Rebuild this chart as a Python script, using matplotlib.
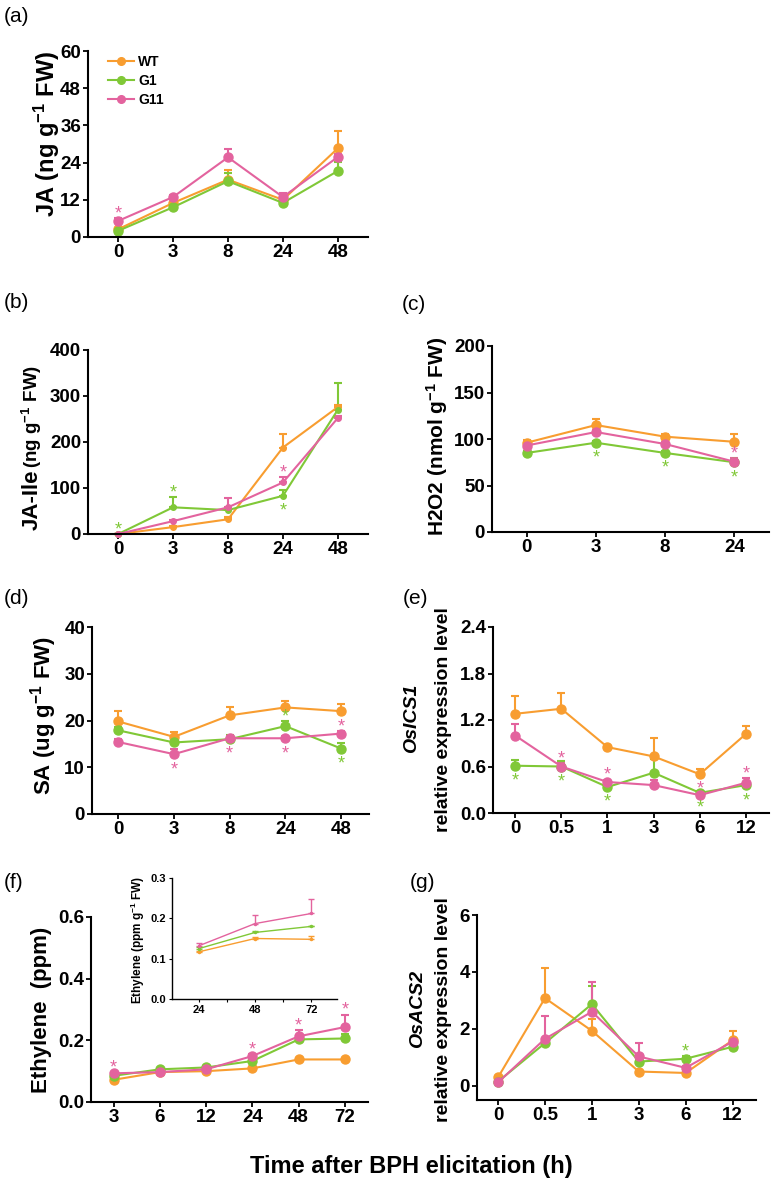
import numpy as np
import matplotlib
matplotlib.use("Agg")
import matplotlib.pyplot as plt
from matplotlib.lines import Line2D

plt.rcParams['font.family'] = ['Liberation Sans', 'DejaVu Sans']
plt.rcParams['mathtext.fontset'] = 'custom'
plt.rcParams['mathtext.rm'] = 'Liberation Sans:bold'
plt.rcParams['mathtext.it'] = 'Liberation Sans:bold:italic'
plt.rcParams['mathtext.bf'] = 'Liberation Sans:bold'

W, H = 774, 1184
colors = {'WT': '#F89D30', 'G1': '#80C837', 'G11': '#E3639E'}
order = ['WT', 'G1', 'G11']

# (a) JA
ja_time = ['0', '3', '8', '24', '48']
ja_mean = {'WT': [2.5, 11.0, 18.5, 12.0, 28.6],
           'G1': [2.0, 9.6, 18.0, 11.0, 21.3],
           'G11': [5.2, 12.9, 25.7, 12.9, 25.8]}
ja_err = {'WT': [0.5, 1.2, 3.2, 1.0, 5.5],
          'G1': [0.5, 0.8, 2.5, 0.8, 2.8],
          'G11': [0.8, 0.8, 2.6, 1.2, 1.0]}
ja_stars = [('G11', 0, 'up')]

# (b) JA-Ile
jaile_time = ['0', '3', '8', '24', '48']
jaile_mean = {'WT': [0, 15, 32, 188, 276],
              'G1': [0, 58, 52, 83, 270],
              'G11': [0, 28, 58, 112, 252]}
jaile_err = {'WT': [0, 3, 5, 29, 5],
             'G1': [0, 22, 5, 12, 58],
             'G11': [0, 3, 20, 12, 5]}
jaile_stars = [('G1', 0, 'up'), ('G1', 1, 'up'), ('G11', 3, 'up'), ('G1', 3, 'down')]

# (c) H2O2
h2o2_time = ['0', '3', '8', '24']
h2o2_mean = {'WT': [96, 115, 102.5, 97],
             'G1': [85, 96, 85, 75],
             'G11': [93, 107.5, 94.6, 75.6]}
h2o2_err = {'WT': [3, 6, 3, 8],
            'G1': [2, 2, 2, 2],
            'G11': [5, 2, 2, 4]}
h2o2_stars = [('G1', 1, 'down'), ('G1', 2, 'down'), ('G11', 3, 'up'), ('G1', 3, 'down')]

# (d) SA
sa_time = ['0', '3', '8', '24', '48']
sa_mean = {'WT': [19.8, 16.5, 21.1, 22.8, 22.0],
           'G1': [17.9, 15.3, 16.0, 18.8, 14.0],
           'G11': [15.4, 12.8, 16.2, 16.2, 17.2]}
sa_err = {'WT': [2.3, 1.0, 1.7, 1.3, 1.6],
          'G1': [0.8, 0.5, 0.8, 1.0, 1.2],
          'G11': [0.6, 1.0, 0.5, 0.4, 0.5]}
sa_stars = [('G11', 1, 'down'), ('G11', 2, 'down'), ('G1', 3, 'up'), ('G11', 3, 'down'),
            ('G11', 4, 'up'), ('G1', 4, 'down')]

# (e) OsICS1
ics_time = ['0', '0.5', '1', '3', '6', '12']
ics_mean = {'WT': [1.28, 1.345, 0.85, 0.73, 0.50, 1.02],
            'G1': [0.61, 0.60, 0.335, 0.52, 0.26, 0.36],
            'G11': [1.00, 0.60, 0.40, 0.36, 0.23, 0.39]}
ics_err = {'WT': [0.23, 0.2, 0.03, 0.24, 0.07, 0.1],
           'G1': [0.08, 0.07, 0.03, 0.18, 0.03, 0.04],
           'G11': [0.15, 0.04, 0.03, 0.06, 0.02, 0.06]}
ics_stars = [('G1', 0, 'down'), ('G11', 1, 'up'), ('G1', 1, 'down'), ('G11', 2, 'up'),
             ('G1', 2, 'down'), ('G11', 4, 'up'), ('G1', 4, 'down'), ('G11', 5, 'up'),
             ('G1', 5, 'down')]

# (f) Ethylene
eth_time = ['3', '6', '12', '24', '48', '72']
eth_mean = {'WT': [0.072, 0.097, 0.100, 0.109, 0.138, 0.138],
            'G1': [0.085, 0.106, 0.112, 0.133, 0.203, 0.206],
            'G11': [0.093, 0.097, 0.106, 0.149, 0.213, 0.243]}
eth_err = {'WT': [0.004, 0.003, 0.003, 0.004, 0.005, 0.004],
           'G1': [0.004, 0.004, 0.004, 0.005, 0.01, 0.015],
           'G11': [0.004, 0.004, 0.004, 0.006, 0.02, 0.04]}
eth_stars = [('G11', 0, 'up'), ('G11', 3, 'up'), ('G11', 4, 'up'), ('G11', 5, 'up')]

# (f) inset, ethylene per g FW
ins_time = [24, 48, 72]
ins_mean = {'WT': [0.117, 0.150, 0.148],
            'G1': [0.125, 0.165, 0.180],
            'G11': [0.132, 0.187, 0.212]}
ins_err = {'WT': [0.003, 0.004, 0.008],
           'G1': [0.003, 0.003, 0.002],
           'G11': [0.008, 0.022, 0.036]}

# (g) OsACS2
acs_time = ['0', '0.5', '1', '3', '6', '12']
acs_mean = {'WT': [0.30, 3.08, 1.93, 0.50, 0.45, 1.60],
            'G1': [0.15, 1.50, 2.87, 0.85, 0.95, 1.37],
            'G11': [0.12, 1.65, 2.60, 1.03, 0.63, 1.55]}
acs_err = {'WT': [0.05, 1.05, 0.42, 0.05, 0.05, 0.33],
           'G1': [0.03, 0.1, 0.65, 0.1, 0.1, 0.08],
           'G11': [0.03, 0.8, 1.05, 0.47, 0.05, 0.1]}
acs_stars = [('G1', 4, 'up')]

fig = plt.figure(figsize=(W / 100, H / 100), dpi=100)


def add_ax(l, t, r, b):
    return fig.add_axes([l / W, 1 - b / H, (r - l) / W, (b - t) / H])


def ftext(x, y, s, **kw):
    return fig.text(x / W, 1 - y / H, s, **kw)


def style(ax, fs=13.5):
    for s in ['top', 'right']:
        ax.spines[s].set_visible(False)
    for s in ['left', 'bottom']:
        ax.spines[s].set_linewidth(1.5)
    ax.tick_params(direction='out', length=3.5, width=1.3, pad=1.5, labelsize=fs)
    for lab in ax.get_xticklabels() + ax.get_yticklabels():
        lab.set_fontweight('bold')


def panel(ax, labels, mean, err, stars, ylim, yticks, xlim, ms=6.5, yfmt='{:g}'):
    x = np.arange(len(labels))
    for name in order:
        m = np.array(mean[name])
        e = np.array(err[name])
        ax.errorbar(x, m, yerr=[np.zeros_like(e), e], color=colors[name], marker='o',
                    ms=ms, lw=1.5, elinewidth=1.5, capsize=3, capthick=1.5,
                    clip_on=False)
    for name, i, where in stars:
        m = mean[name][i]
        if where == 'up':
            ax.annotate('*', (i, m + err[name][i]), xytext=(0, -3), textcoords='offset points',
                        ha='center', va='bottom', color=colors[name], fontsize=13)
        else:
            ax.annotate('*', (i, m), xytext=(0, -5), textcoords='offset points',
                        ha='center', va='top', color=colors[name], fontsize=13)
    ax.set_xticks(x)
    ax.set_xticklabels(labels)
    ax.set_yticks(yticks)
    ax.set_yticklabels([yfmt.format(v) for v in yticks])
    ax.set_xlim(*xlim)
    ax.set_ylim(*ylim)
    style(ax)


# (a)
ax_a = add_ax(88, 51, 368, 237)
panel(ax_a, ja_time, ja_mean, ja_err, ja_stars, (0, 60), [0, 12, 24, 36, 48, 60], (-0.55, 4.55))
handles = [Line2D([], [], color=colors[n], marker='o', ms=5.5, lw=1.5) for n in order]
ax_a.legend(handles, order, loc='upper left', bbox_to_anchor=(0.025, 1.045), frameon=False,
            handlelength=1.9, handletextpad=0.3, labelspacing=0.35,
            prop={'weight': 'bold', 'size': 10})
ftext(47, 134, 'JA (ng g$^{-1}$ FW)', rotation=90, ha='center', va='center',
      fontsize=17, fontweight='bold')
ftext(4, 16, '(a)', ha='left', va='center', fontsize=15)

# (b)
ax_b = add_ax(88, 350, 368, 534)
panel(ax_b, jaile_time, jaile_mean, jaile_err, jaile_stars, (0, 400), [0, 100, 200, 300, 400],
      (-0.55, 4.55), ms=4)
ftext(4, 302, '(b)', ha='left', va='center', fontsize=15)
t1 = ftext(32, 530, 'JA-Ile', rotation=90, ha='center', va='bottom', fontsize=16,
           fontweight='bold')
fig.canvas.draw()
bb = t1.get_window_extent()
fig.text(32 / W, (bb.y1 + 2) / H, '(ng g$^{-1}$ FW)', rotation=90, ha='center', va='bottom',
         fontsize=13.5, fontweight='bold')

# (c)
ax_c = add_ax(492, 346, 769, 532)
panel(ax_c, h2o2_time, h2o2_mean, h2o2_err, h2o2_stars, (0, 200), [0, 50, 100, 150, 200],
      (-0.5, 3.5))
ftext(437, 436, 'H2O2 (nmol g$^{-1}$ FW)', rotation=90, ha='center', va='center',
      fontsize=15, fontweight='bold')
ftext(402, 305, '(c)', ha='left', va='center', fontsize=15)

# (d)
ax_d = add_ax(92, 627, 369, 814)
panel(ax_d, sa_time, sa_mean, sa_err, sa_stars, (0, 40), [0, 10, 20, 30, 40], (-0.47, 4.5))
ftext(44, 715, 'SA (ug g$^{-1}$ FW)', rotation=90, ha='center', va='center',
      fontsize=16, fontweight='bold')
ftext(4, 598, '(d)', ha='left', va='center', fontsize=15)

# (e)
ax_e = add_ax(493, 627, 769, 813)
panel(ax_e, ics_time, ics_mean, ics_err, ics_stars, (0, 2.4), [0, 0.6, 1.2, 1.8, 2.4],
      (-0.48, 5.5), yfmt='{:.1f}')
ftext(412, 718, 'OsICS1', rotation=90, ha='center', va='center', fontsize=14,
      fontweight='bold', fontstyle='italic')
ftext(443, 720, 'relative expression level', rotation=90, ha='center', va='center',
      fontsize=14, fontweight='bold')
ftext(403, 598, '(e)', ha='left', va='center', fontsize=15)

# (f)
ax_f = add_ax(91, 917, 368, 1102)
panel(ax_f, eth_time, eth_mean, eth_err, eth_stars, (0, 0.6), [0, 0.2, 0.4, 0.6],
      (-0.49, 5.5), yfmt='{:.1f}')
ftext(42, 1010, 'Ethylene  (ppm)', rotation=90, ha='center', va='center',
      fontsize=16, fontweight='bold')
ftext(4, 883, '(f)', ha='left', va='center', fontsize=15)

ax_in = add_ax(172, 878, 337, 999)
for name in order:
    m = np.array(ins_mean[name])
    e = np.array(ins_err[name])
    ax_in.errorbar(ins_time, m, yerr=[np.zeros_like(e), e], color=colors[name], marker='o',
                   ms=1.5, lw=1.0, elinewidth=1.0, capsize=2, capthick=1.0)
ax_in.set_xlim(12.5, 83)
ax_in.set_ylim(0, 0.3)
ax_in.set_xticks(ins_time)
ax_in.set_xticks([36, 60], minor=True)
ax_in.set_yticks([0, 0.1, 0.2, 0.3])
ax_in.set_yticklabels(['0.0', '0.1', '0.2', '0.3'])
style(ax_in, fs=8)
for s in ['left', 'bottom']:
    ax_in.spines[s].set_linewidth(1.0)
ax_in.tick_params(length=2.5, width=0.8, pad=1.5)
ax_in.tick_params(which='minor', length=2.5, width=0.8)
ftext(138, 940, 'Ethylene (ppm g$^{-1}$ FW)', rotation=90, ha='center', va='center',
      fontsize=8.5, fontweight='bold')

# (g)
ax_g = add_ax(477, 915, 756, 1100)
panel(ax_g, acs_time, acs_mean, acs_err, acs_stars, (-0.5, 6), [0, 2, 4, 6], (-0.45, 5.5))
ftext(418, 1009, 'OsACS2', rotation=90, ha='center', va='center', fontsize=14,
      fontweight='bold', fontstyle='italic')
ftext(443, 1010, 'relative expression level', rotation=90, ha='center', va='center',
      fontsize=14, fontweight='bold')
ftext(410, 883, '(g)', ha='left', va='center', fontsize=15)

ftext(411, 1167, 'Time after BPH elicitation (h)', ha='center', va='center',
      fontsize=17, fontweight='bold')

fig.savefig('out.png', dpi=100)
